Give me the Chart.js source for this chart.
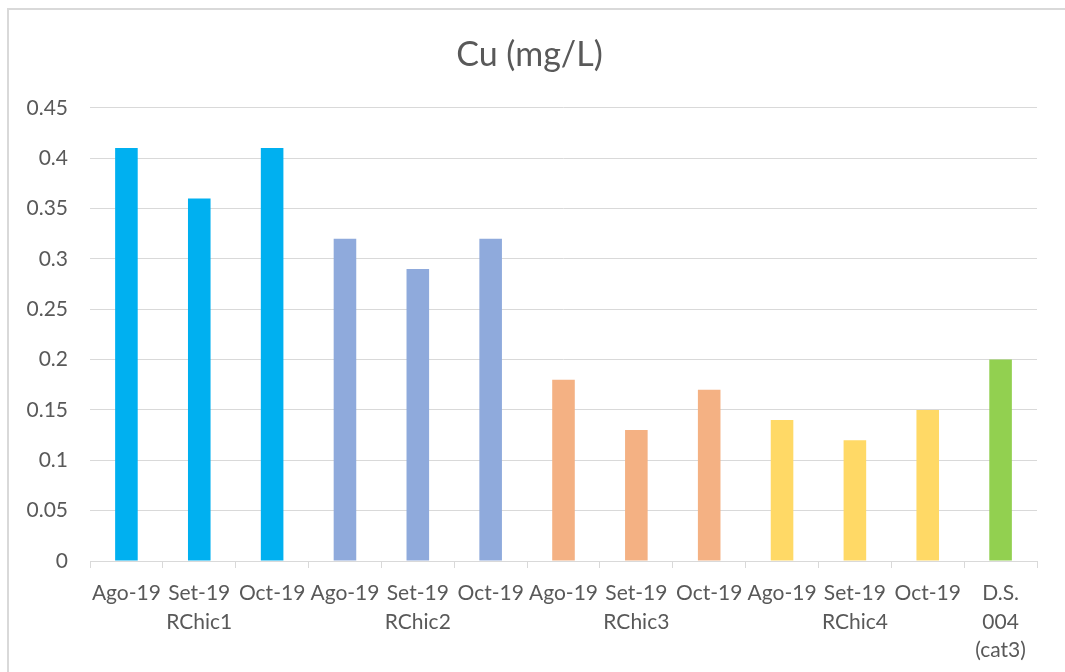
<!DOCTYPE html>
<html>
<head>
<meta charset="utf-8">
<script src="https://cdn.jsdelivr.net/npm/chart.js@4"></script>
<style>
  body { margin: 0; background: #fff; overflow: hidden; }
</style>
</head>
<body>
<canvas id="myChart" width="1065" height="672"></canvas>
<script>
const months = ["Ago-19", "Set-19", "Oct-19"];
const stations = ["RChic1", "RChic2", "RChic3", "RChic4"];
const rchic1 = [0.41, 0.36, 0.41];
const rchic2 = [0.32, 0.29, 0.32];
const rchic3 = [0.18, 0.13, 0.17];
const rchic4 = [0.14, 0.12, 0.15];
const dsLabel = ["D.S.", "004", "(cat3)"];
const dsValue = [0.20];

const groupColors = ["#00B0F0", "#8FAADC", "#F4B183", "#FFD966"];
const dsColor = "#92D050";

let labels = [];
let values = [];
let colors = [];
[rchic1, rchic2, rchic3, rchic4].forEach((arr, g) => {
    for (let i = 0; i < arr.length; i++) {
        // station name goes under the middle month
        labels.push(i == 1 ? [months[i], stations[g]] : [months[i]]);
        values.push(arr[i]);
        colors.push(groupColors[g]);
    }
});
labels.push(dsLabel);
values.push(dsValue[0]);
colors.push(dsColor);

const textColor = "#595959";
const gridColor = "#d9d9d9";

// the chart frame: only the left and top edges are inside the picture
const framePlugin = {
    id: 'frame',
    beforeDraw: (chart) => {
        const c = chart.ctx;
        c.save();
        c.fillStyle = '#fff';
        c.fillRect(0, 0, chart.width, chart.height);
        c.strokeStyle = gridColor;
        c.lineWidth = 2;
        c.beginPath();
        c.moveTo(8, chart.height);
        c.lineTo(8, 9);
        c.lineTo(chart.width, 9);
        c.stroke();
        c.restore();
    }
};

var ctx = document.getElementById('myChart').getContext('2d');
var myChart = new Chart(ctx, {
    type: 'bar',
    data: {
        labels: labels,
        datasets: [{
            label: 'Cu (mg/L)',
            data: values,
            backgroundColor: colors,
            borderWidth: 0,
            barPercentage: 0.31,
            categoryPercentage: 1
        }]
    },
    options: {
        responsive: false,
        animation: false,
        layout: { padding: { left: 22, right: 28, top: 0, bottom: 0 } },
        plugins: {
            legend: { display: false },
            tooltip: { enabled: false },
            title: {
                display: true,
                text: 'Cu (mg/L)',
                color: textColor,
                font: { family: 'Lato', size: 34, weight: 'normal', lineHeight: 1.2 },
                padding: { top: 35, bottom: 32 }
            }
        },
        scales: {
            x: {
                offset: true,
                grid: {
                    offset: true,
                    drawOnChartArea: false,
                    drawTicks: true,
                    tickLength: 7,
                    color: gridColor
                },
                border: { color: gridColor },
                ticks: {
                    color: textColor,
                    padding: 11,
                    maxRotation: 0,
                    autoSkip: false,
                    font: { family: 'Lato', size: 21, lineHeight: 1.36 }
                },
                afterFit: (scale) => { scale.height = 111; }
            },
            y: {
                min: 0,
                max: 0.45,
                grid: { color: gridColor, drawTicks: false },
                border: { display: false },
                ticks: {
                    stepSize: 0.05,
                    color: textColor,
                    padding: 22,
                    font: { family: 'Lato', size: 21 },
                    callback: (v) => String(Math.round(v * 100) / 100)
                },
                afterFit: (scale) => { scale.width = 68; }
            }
        }
    },
    plugins: [framePlugin]
});
</script>
</body>
</html>
